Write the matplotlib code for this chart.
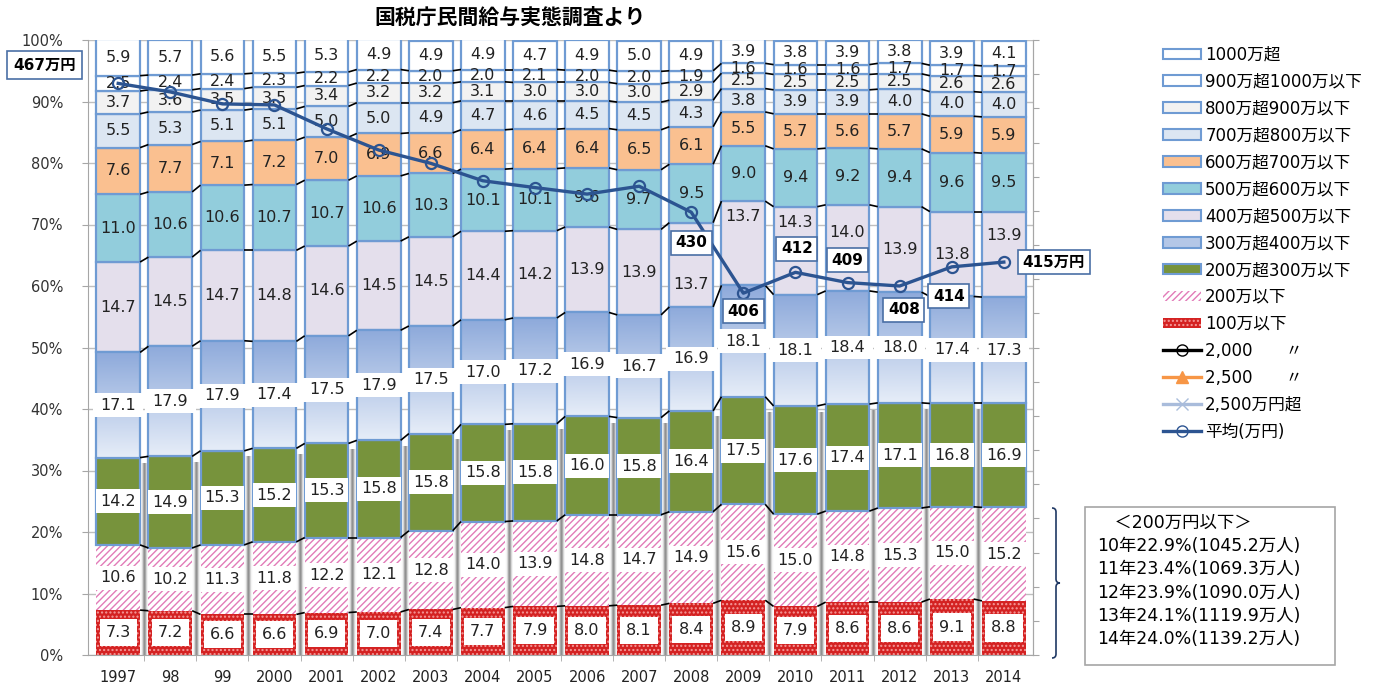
import numpy as np
import matplotlib
matplotlib.use("Agg")
import matplotlib.pyplot as plt
from matplotlib.patches import Patch, Rectangle, PathPatch
from matplotlib.lines import Line2D
from matplotlib.path import Path
from matplotlib.colors import to_rgb

plt.rcParams['font.family'] = ['DejaVu Sans', 'Noto Sans CJK JP']
plt.rcParams['hatch.linewidth'] = 1.0

YEARS = ["1997", "98", "99", "2000", "2001", "2002", "2003", "2004", "2005",
         "2006", "2007", "2008", "2009", "2010", "2011", "2012", "2013", "2014"]

# shares by annual income bracket (%), bottom to top
UNDER_100 = [7.3, 7.2, 6.6, 6.6, 6.9, 7.0, 7.4, 7.7, 7.9, 8.0, 8.1, 8.4, 8.9, 7.9, 8.6, 8.6, 9.1, 8.8]
B100_200 = [10.6, 10.2, 11.3, 11.8, 12.2, 12.1, 12.8, 14.0, 13.9, 14.8, 14.7, 14.9, 15.6, 15.0, 14.8, 15.3, 15.0, 15.2]
B200_300 = [14.2, 14.9, 15.3, 15.2, 15.3, 15.8, 15.8, 15.8, 15.8, 16.0, 15.8, 16.4, 17.5, 17.6, 17.4, 17.1, 16.8, 16.9]
B300_400 = [17.1, 17.9, 17.9, 17.4, 17.5, 17.9, 17.5, 17.0, 17.2, 16.9, 16.7, 16.9, 18.1, 18.1, 18.4, 18.0, 17.4, 17.3]
B400_500 = [14.7, 14.5, 14.7, 14.8, 14.6, 14.5, 14.5, 14.4, 14.2, 13.9, 13.9, 13.7, 13.7, 14.3, 14.0, 13.9, 13.8, 13.9]
B500_600 = [11.0, 10.6, 10.6, 10.7, 10.7, 10.6, 10.3, 10.1, 10.1, 9.6, 9.7, 9.5, 9.0, 9.4, 9.2, 9.4, 9.6, 9.5]
B600_700 = [7.6, 7.7, 7.1, 7.2, 7.0, 6.9, 6.6, 6.4, 6.4, 6.4, 6.5, 6.1, 5.5, 5.7, 5.6, 5.7, 5.9, 5.9]
B700_800 = [5.5, 5.3, 5.1, 5.1, 5.0, 5.0, 4.9, 4.7, 4.6, 4.5, 4.5, 4.3, 3.8, 3.9, 3.9, 4.0, 4.0, 4.0]
B800_900 = [3.7, 3.6, 3.5, 3.5, 3.4, 3.2, 3.2, 3.1, 3.0, 3.0, 3.0, 2.9, 2.5, 2.5, 2.5, 2.5, 2.6, 2.6]
B900_1000 = [2.5, 2.4, 2.4, 2.3, 2.2, 2.2, 2.0, 2.0, 2.1, 2.0, 2.0, 1.9, 1.6, 1.6, 1.6, 1.7, 1.7, 1.7]
OVER_1000 = [5.9, 5.7, 5.6, 5.5, 5.3, 4.9, 4.9, 4.9, 4.7, 4.9, 5.0, 4.9, 3.9, 3.8, 3.9, 3.8, 3.9, 4.1]

# average salary (万円)
AVG = [467.3, 464.8, 461.3, 461.0, 454.0, 447.8, 443.9, 438.8, 436.8, 434.9,
       437.2, 429.6, 405.9, 412.0, 409.0, 408.0, 413.6, 415.0]

# box at lower right: share of people earning 200万円 or less
BOX_YEARS = ["10", "11", "12", "13", "14"]
BOX_PCT = [22.9, 23.4, 23.9, 24.1, 24.0]
BOX_PEOPLE = [1045.2, 1069.3, 1090.0, 1119.9, 1139.2]

SERIES = [UNDER_100, B100_200, B200_300, B300_400, B400_500, B500_600,
          B600_700, B700_800, B800_900, B900_1000, OVER_1000]
NAMES = ["100万以下", "200万以下", "200万超300万以下", "300万超400万以下",
         "400万超500万以下", "500万超600万以下", "600万超700万以下",
         "700万超800万以下", "800万超900万以下", "900万超1000万以下", "1000万超"]
EDGE = "#6F9BD3"
FACES = ["#D42222", "white", "#77933C", "#B4C7E7", "#E4DFEC", "#92CDDC",
         "#FAC090", "#DCE6F2", "#F2F2F2", "white", "white"]

W = 0.84
n = len(YEARS)
x = np.arange(n)
data = np.array(SERIES)
cum = np.vstack([np.zeros(n), np.cumsum(data, axis=0)])

fig = plt.figure(figsize=(13.86, 6.84), dpi=100)
ax = fig.add_axes([88 / 1386, 1 - 655 / 684, 945 / 1386, 615 / 684])


def gradient(ax, ext, c0, c1, z=2.1):
    t = np.linspace(0, 1, 64)[:, None]
    rgb = (1 - t) * np.array(to_rgb(c0)) + t * np.array(to_rgb(c1))
    ax.imshow(rgb[:, None, :], extent=ext, origin="lower", aspect="auto",
              interpolation="bilinear", zorder=z)


# gray shadows in the gaps below the green segments
for i in range(n - 1):
    top = min(cum[3][i], cum[3][i + 1]) - 1.0
    ext = (i + W / 2, i + 1 - W / 2, 0, top)
    t = np.linspace(0, 1, 32)
    prof = 1 - 0.45 * np.exp(-((t - 0.5) / 0.22) ** 2)
    img = np.repeat(prof[None, :, None], 3, axis=2)
    ax.imshow(img, extent=ext, origin="lower", aspect="auto",
              interpolation="bilinear", zorder=1)

# stacked bars
for k, vals in enumerate(SERIES):
    bottom = cum[k]
    if k == 0:
        ax.bar(x, vals, W, bottom=bottom, color=FACES[k], edgecolor="#F59A9A",
               hatch="....", linewidth=0, zorder=2)
    elif k == 1:
        ax.bar(x, vals, W, bottom=bottom, color="white", edgecolor="#E27BB8",
               hatch="/////", linewidth=0, zorder=2)
    elif k == 3:
        for i in range(n):
            gradient(ax, (i - W / 2, i + W / 2, bottom[i], bottom[i] + vals[i]),
                     "#E6EDF8", "#8EAADB")
        ax.bar(x, vals, W, bottom=bottom, color="none", edgecolor=EDGE,
               linewidth=1.6, zorder=2.2)
    else:
        ax.bar(x, vals, W, bottom=bottom, color=FACES[k], edgecolor=EDGE,
               linewidth=1.6, zorder=2)

# series lines between bars
for k in range(1, len(SERIES)):
    for i in range(n - 1):
        ax.plot([i + W / 2, i + 1 - W / 2], [cum[k][i], cum[k][i + 1]],
                color="black", lw=1.2, zorder=2.5, solid_capstyle="butt")

# value labels
LBL = 11.5
shift = {(4, 11): -3.2, (4, 12): 4.4, (4, 13): 4.6, (4, 14): 2.5, (4, 17): 3.1}
for k, vals in enumerate(SERIES):
    for i in range(n):
        yc = cum[k][i] + vals[i] / 2 + shift.get((k, i), 0)
        s = f"{vals[i]:.1f}"
        if k == 0:
            ax.text(i, yc, s, ha="center", va="center", fontsize=LBL, zorder=4,
                    color="#222222",
                    bbox=dict(boxstyle="square,pad=0.38", fc="white", ec="none"))
        else:
            if k in (1, 2, 3):
                bw = 0.97 if k == 3 else W
                ax.add_patch(Rectangle((i - bw / 2, yc - 1.95), bw, 3.9,
                                       fc="white", ec="none", zorder=3))
            ax.text(i, yc, s, ha="center", va="center", fontsize=LBL, zorder=4,
                    color="#222222")

ax.set_xlim(-0.58, n - 1 + 0.56)
ax.set_ylim(0, 100)
ax.set_yticks(np.arange(0, 101, 10))
ax.set_yticklabels([f"{v}%" for v in range(0, 101, 10)], fontsize=10.5, color="#333333")
ax.set_xticks(x)
ax.set_xticklabels(YEARS, fontsize=10.5, color="#222222")
ax.set_xticks(np.arange(n - 1) + 0.5, minor=True)
ax.tick_params(axis="x", which="major", length=0, pad=11)
ax.tick_params(axis="x", which="minor", length=4, color="#A6A6A6")
ax.tick_params(axis="y", length=4, color="#A6A6A6", pad=14)
ax.grid(axis="y", color="#BFBFBF", lw=1.0, zorder=0)
ax.set_axisbelow(True)
ax.spines["top"].set_visible(False)
for s in ("left", "bottom", "right"):
    ax.spines[s].set_color("#A6A6A6")

# average salary on a hidden secondary scale
ax2 = ax.twinx()
ax2.set_ylim(300, 480)
ax2.set_yticks(np.arange(300, 481, 10))
ax2.set_yticklabels([])
ax2.tick_params(axis="y", length=4, color="#A6A6A6")
for s in ("top", "left", "bottom"):
    ax2.spines[s].set_visible(False)
ax2.spines["right"].set_color("#A6A6A6")
LINE_C = "#2C5491"
ax2.plot(x, AVG, color=LINE_C, lw=2.4, marker="o", ms=8, mfc="none",
         mec=LINE_C, mew=1.6, zorder=5)

ann = {0: (-53, 13, "万円", 0.42), 11: (0, -22, "", 0.3), 12: (0, -13, "", 0.3),
       13: (1, 17, "", 0.3), 14: (0, 16, "", 0.3), 15: (3, -17, "", 0.3),
       16: (-2, -21, "", 0.3), 17: (36, 0, "万円", 0.3)}
for i, (dx, dy, unit, pad) in ann.items():
    ax2.annotate(f"{round(AVG[i])}{unit}", (x[i], AVG[i]), xytext=(dx, dy),
                 textcoords="offset points", ha="center", va="center",
                 fontsize=11, fontweight="bold", color="black", zorder=6,
                 annotation_clip=False,
                 bbox=dict(boxstyle=f"square,pad={pad}", fc="white", ec="#4A6FA5", lw=1.2))

# title
fig.text(510 / 1386, 1 - 18 / 684, "国税庁民間給与実態調査より", ha="center",
         va="center", fontsize=15, fontweight="bold")

# legend
handles = []
for k in range(len(SERIES) - 1, -1, -1):
    if k == 0:
        handles.append(Patch(fc=FACES[0], ec="#F59A9A", hatch="....", lw=0, label=NAMES[k]))
    elif k == 1:
        handles.append(Patch(fc="white", ec="#E27BB8", hatch="/////", lw=0, label=NAMES[k]))
    else:
        handles.append(Patch(fc=FACES[k], ec=EDGE, lw=1.5, label=NAMES[k]))
handles += [
    Line2D([], [], color="black", lw=2.4, marker="o", ms=8, mfc="none", label="2,000　　〃"),
    Line2D([], [], color="#F79646", lw=2.4, marker="^", ms=8, label="2,500　　〃"),
    Line2D([], [], color="#A9BCDB", lw=2.4, marker="x", ms=8, label="2,500万円超"),
    Line2D([], [], color=LINE_C, lw=2.4, marker="o", ms=8, mfc="none", label="平均(万円)"),
]
fig.legend(handles=handles, loc="upper left", bbox_to_anchor=(1156 / 1386, 1 - 39 / 684),
           frameon=False, fontsize=12, labelspacing=0.535, handlelength=2.3,
           handleheight=0.6, handletextpad=0.25, borderaxespad=0)

# summary box
fig.patches.append(Rectangle((1085 / 1386, 1 - 665 / 684), 250 / 1386, 158 / 684,
                             transform=fig.transFigure, fc="white", ec="#A6A6A6", lw=1.2))
lines = ["　＜200万円以下＞"] + [f"{y}年{p:.1f}%({c:.1f}万人)"
                               for y, p, c in zip(BOX_YEARS, BOX_PCT, BOX_PEOPLE)]
fig.text(1097 / 1386, 1 - 514 / 684, "\n".join(lines), ha="left", va="top",
         fontsize=12.5, linespacing=1.37)

# brace
bx, y0, y1, tip = 1052, 508, 658, 1060
ym = (y0 + y1) / 2
pts = [(bx, y0), (bx + 4, y0), (bx + 4, y0 + 4), (bx + 4, ym - 4), (bx + 4, ym), (tip, ym),
       (bx + 4, ym), (bx + 4, ym + 4), (bx + 4, y1 - 4), (bx + 4, y1), (bx, y1)]
codes = [Path.MOVETO, Path.CURVE3, Path.CURVE3, Path.LINETO, Path.CURVE3, Path.CURVE3,
         Path.CURVE3, Path.CURVE3, Path.LINETO, Path.CURVE3, Path.CURVE3]
pts = [(px / 1386, 1 - py / 684) for px, py in pts]
fig.patches.append(PathPatch(Path(pts, codes), transform=fig.transFigure,
                             fc="none", ec="#1F3864", lw=1.2))

fig.savefig("out.png", dpi=100)
